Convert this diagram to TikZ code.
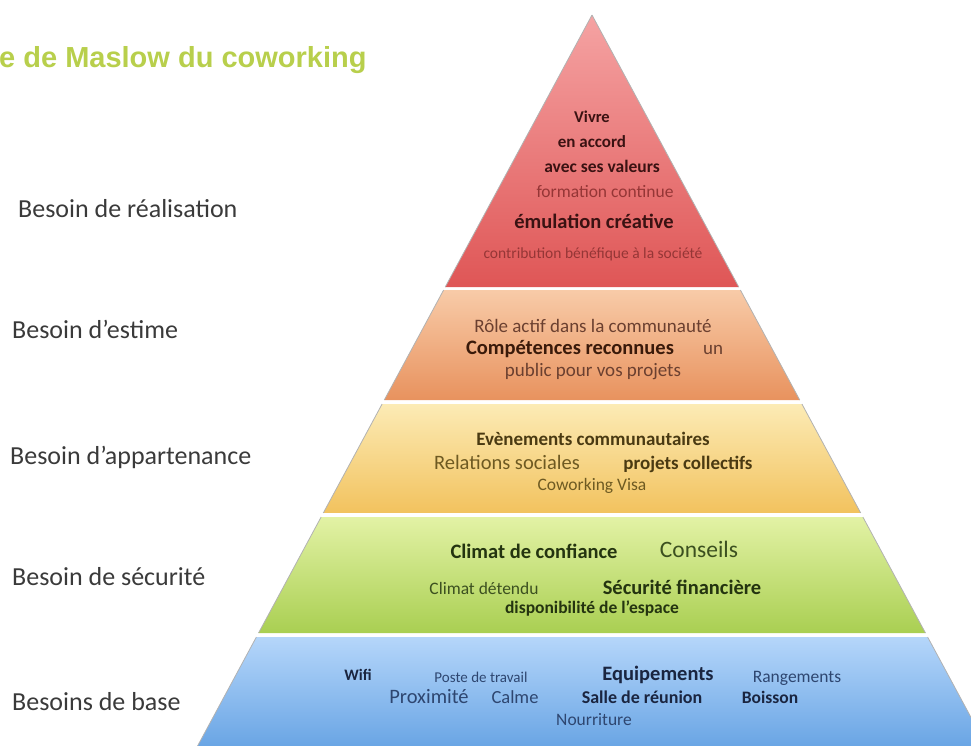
\documentclass[tikz,border=0pt]{standalone}
\usepackage{fontspec}
\setmainfont{Carlito}
\newfontfamily\titlefont{Liberation Sans}
\usetikzlibrary{calc}

\definecolor{redtop}{HTML}{F5A3A3}
\definecolor{redbot}{HTML}{DF5656}
\definecolor{ortop}{HTML}{F8CBA8}
\definecolor{orbot}{HTML}{E8925E}
\definecolor{yeltop}{HTML}{FCEBB5}
\definecolor{yelbot}{HTML}{F2C25E}
\definecolor{grntop}{HTML}{E3F2A5}
\definecolor{grnbot}{HTML}{A9CF52}
\definecolor{blutop}{HTML}{B5D6FA}
\definecolor{blubot}{HTML}{609FE2}
\definecolor{titlegreen}{HTML}{B8CF4C}
\definecolor{labelgray}{HTML}{3A3A3A}
\definecolor{redink}{HTML}{3A1212}
\definecolor{redsoft}{HTML}{953636}
\definecolor{orink}{HTML}{3A1A0A}
\definecolor{orsoft}{HTML}{6B4030}
\definecolor{yelink}{HTML}{4A3A12}
\definecolor{yelsoft}{HTML}{6E5A22}
\definecolor{grnink}{HTML}{243410}
\definecolor{grnsoft}{HTML}{3C5020}
\definecolor{bluink}{HTML}{1A2540}
\definecolor{blusoft}{HTML}{2E4670}

\begin{document}
\begin{tikzpicture}[x=1pt, y=-1pt,
  besoin/.style={anchor=mid west, inner sep=0pt, text=labelgray, font=\fontsize{26}{30}\selectfont},
  rt/.style={inner sep=0pt, anchor=mid, font=\fontsize{#1}{#1}\selectfont},
  bt/.style={inner sep=0pt, anchor=mid, font=\fontsize{#1}{#1}\selectfont\bfseries},
  edge/.style={black!30, line width=0.8pt}]
  \clip (0,0) rectangle (971,745);
  \coordinate (apex) at (592,15);
  \coordinate (bl) at (190,760);
  \coordinate (br) at (994,760);

  % pyramid bands
  \foreach \ya/\yb/\ca/\cb in {15/287/redtop/redbot, 290/400/ortop/orbot,
      404/513/yeltop/yelbot, 517/633/grntop/grnbot, 637/760/blutop/blubot} {
    \pgfmathsetmacro\ta{(\ya-15)/745}
    \pgfmathsetmacro\tb{(\yb-15)/745}
    \shade[top color=\ca, bottom color=\cb] ($(apex)!\ta!(bl)$) -- ($(apex)!\ta!(br)$)
      -- ($(apex)!\tb!(br)$) -- ($(apex)!\tb!(bl)$) -- cycle;
    \draw[edge] ($(apex)!\ta!(bl)$) -- ($(apex)!\tb!(bl)$);
    \draw[edge] ($(apex)!\ta!(br)$) -- ($(apex)!\tb!(br)$);
  }

  \node[anchor=base west, inner sep=0pt, text=titlegreen, font=\titlefont\fontsize{29}{32}\selectfont\bfseries] (titre) at (-1,67) {e de Maslow du coworking};

  \begin{scope}[yshift=-5pt]
  \node[besoin] (realisation) at (18,210) {Besoin de réalisation};
  \node[besoin] (estime) at (12,331) {Besoin d’estime};
  \node[besoin] (appartenance) at (10,457) {Besoin d’appartenance};
  \node[besoin] (securite) at (12,578) {Besoin de sécurité};
  \node[besoin] (base) at (12,703) {Besoins de base};

  % realisation
  \node[bt=16.5, text=redink] (vivre) at (592,115) {Vivre};
  \node[bt=17, text=redink] (accord) at (592,140) {en accord};
  \node[bt=17.5, text=redink] (valeurs) at (602,165) {avec ses valeurs};
  \node[rt=17.5, text=redsoft] (formation) at (605,190) {formation continue};
  \node[bt=20.5, text=redink] (emulation) at (594,221) {émulation créative};
  \node[rt=15.5, text=redsoft] (contribution) at (593,251) {contribution bénéfique à la société};

  % estime
  \node[rt=19, text=orsoft] (role) at (593,325) {Rôle actif dans la communauté};
  \node[bt=20.5, text=orink] (competences) at (570,347) {Compétences reconnues};
  \node[rt=19, text=orsoft] (un) at (713,347) {un};
  \node[rt=19, text=orsoft] (public) at (593,369) {public pour vos projets};

  % appartenance
  \node[bt=19, text=yelink] (evenements) at (593,438) {Evènements communautaires};
  \node[rt=20.5, text=yelsoft] (relations) at (507,462) {Relations sociales};
  \node[bt=19, text=yelink] (collectifs) at (688,462) {projets collectifs};
  \node[rt=17.5, text=yelsoft] (visa) at (592,483) {Coworking Visa};

  % securite
  \node[bt=20.5, text=grnink] (confiance) at (534,551) {Climat de confiance};
  \node[rt=23.5, text=grnsoft] (conseils) at (699,550) {Conseils};
  \node[rt=17.5, text=grnsoft] (detendu) at (484,587) {Climat détendu};
  \node[bt=20.5, text=grnink] (financiere) at (682,587) {Sécurité financière};
  \node[bt=17.5, text=grnink] (espace) at (592,606) {disponibilité de l’espace};

  % base
  \node[bt=16, text=bluink] (wifi) at (358,673) {Wifi};
  \node[rt=15, text=blusoft] (poste) at (481,675) {Poste de travail};
  \node[bt=20.5, text=bluink] (equipements) at (658,673) {Equipements};
  \node[rt=17.5, text=blusoft] (rangements) at (797,675) {Rangements};
  \node[rt=20.5, text=blusoft] (proximite) at (429,696) {Proximité};
  \node[rt=18.5, text=blusoft] (calme) at (515,696) {Calme};
  \node[bt=18, text=bluink] (salle) at (642,696) {Salle de réunion};
  \node[bt=17.5, text=bluink] (boisson) at (770,696) {Boisson};
  \node[rt=17.5, text=blusoft] (nourriture) at (594,718) {Nourriture};
  \end{scope}
\end{tikzpicture}
\end{document}
